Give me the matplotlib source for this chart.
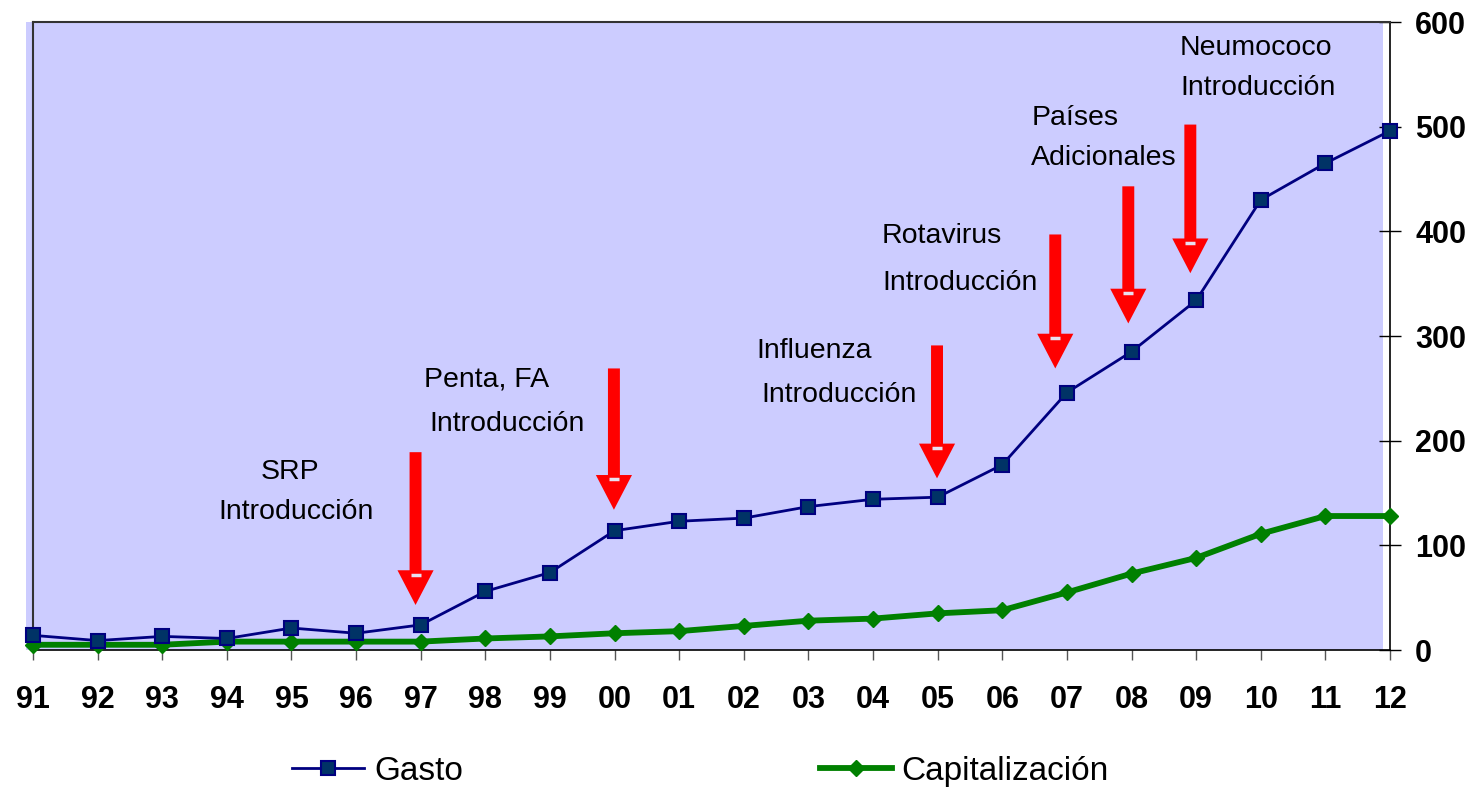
import matplotlib
matplotlib.use("Agg")
import matplotlib.pyplot as plt
from matplotlib.patches import Rectangle

plt.rcParams['font.family'] = ['Liberation Sans', 'DejaVu Sans']

years = ["91", "92", "93", "94", "95", "96", "97", "98", "99", "00", "01",
         "02", "03", "04", "05", "06", "07", "08", "09", "10", "11", "12"]
gasto = [14, 9, 13, 11, 21, 16, 24, 56, 74, 114, 123, 126, 137, 144, 146,
         177, 246, 285, 334, 430, 465, 496]
capitalizacion = [5, 5, 5, 8, 8, 8, 8, 11, 13, 16, 18, 23, 28, 30, 35, 38,
                  55, 73, 88, 111, 128, 128]
yticks = [0, 100, 200, 300, 400, 500, 600]

# arrows: x (category index), top value, tip value
arrow_x = [5.92, 8.99, 13.99, 15.82, 16.95, 17.91]
arrow_top = [189, 269, 291, 397, 443, 502]
arrow_tip = [43, 134, 164, 269, 312, 360]

# annotation labels (two lines each)
notes_l1 = ["SRP", "Penta, FA", "Influenza", "Rotavirus", "Países", "Neumococo"]
notes_l2 = ["Introducción", "Introducción", "Introducción", "Introducción",
            "Adicionales", "Introducción"]
note_x1 = [3.98, 6.05, 11.20, 13.14, 15.45, 17.75]
note_x2 = [4.07, 6.14, 11.27, 13.14, 15.45, 17.75]
note_y1 = [170, 258, 286, 396, 508, 575]
note_y2 = [132, 216, 244, 351, 470, 537]
note_ha = ["center", "left", "left", "left", "left", "left"]

fig = plt.figure(figsize=(14.74, 7.91), dpi=100)
ax = fig.add_axes([33/1474, 1-650/791, (1390-33)/1474, (650-22)/791])
ax.set_facecolor('none')
ax.add_patch(Rectangle((-0.0052, 0), 1.0, 1.0, transform=ax.transAxes,
                       facecolor='#CCCCFF', edgecolor='none', zorder=0, clip_on=False))

x = list(range(len(years)))
ax.plot(x, capitalizacion, color='#008000', lw=4.2, marker='D', ms=8.5,
        mfc='#008000', mec='#008000', label='Capitalización', zorder=3, clip_on=False)
ax.plot(x, gasto, color='#000080', lw=2, marker='s', ms=10.5,
        mfc='#003366', mec='#000080', mew=1.5, label='Gasto', zorder=4, clip_on=False)

for xa, yt, yb in zip(arrow_x, arrow_top, arrow_tip):
    ax.annotate('', xy=(xa, yb), xytext=(xa, yt),
                arrowprops=dict(arrowstyle='simple,head_length=2.5,head_width=2.6,tail_width=0.86',
                                mutation_scale=10, color='#FF0000', shrinkA=0, shrinkB=0, lw=0),
                zorder=5)
    # small light dash at the head base
    ax.plot([xa], [yb + 29], marker='_', ms=7, mew=2.5,
            color='#E8E0F0', zorder=6, linestyle='none')

for t1, t2, x1, x2, y1, y2, ha in zip(notes_l1, notes_l2, note_x1, note_x2, note_y1, note_y2, note_ha):
    ax.text(x1, y1, t1, fontsize=20.5, ha=ha, va='center', color='#000000', zorder=6)
    ax.text(x2, y2, t2, fontsize=20.5, ha='center' if ha == 'center' else 'left',
            va='center', color='#000000', zorder=6)

ax.set_xlim(0, len(years) - 1)
ax.set_ylim(0, 600)
ax.set_xticks(x)
ax.set_xticklabels(years, fontsize=22, fontweight='bold')
ax.yaxis.tick_right()
ax.set_yticks(yticks)
ax.set_yticklabels([str(v) for v in yticks], fontsize=22, fontweight='bold')
ax.tick_params(axis='y', direction='inout', length=16, width=1, pad=10, colors='black')
ax.tick_params(axis='x', direction='out', length=7, width=1, pad=18, color='#555555')

for s in ['top', 'left']:
    ax.spines[s].set_color('#333333')
    ax.spines[s].set_linewidth(1.5)
for s in ['bottom', 'right']:
    ax.spines[s].set_color('black')
    ax.spines[s].set_linewidth(1.2)

h, l = ax.get_legend_handles_labels()
leg = fig.legend([h[1], h[0]], [l[1], l[0]], loc='center left',
                 bbox_to_anchor=(292/1474, 0.025), ncol=2, frameon=False,
                 fontsize=24, handlelength=2.16, handletextpad=0.3, columnspacing=10.7,
                 borderpad=0, borderaxespad=0, numpoints=1)

fig.savefig('out.png', dpi=100)
